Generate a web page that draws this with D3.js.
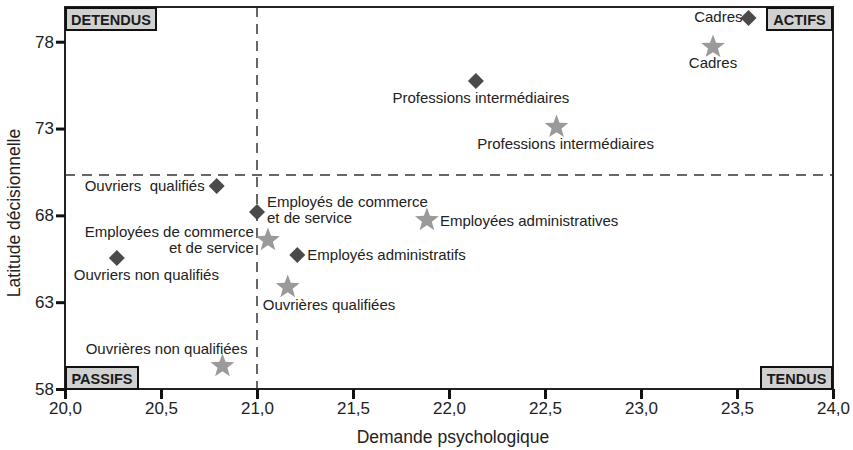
<!DOCTYPE html>
<html>
<head>
<meta charset="utf-8">
<script src="https://cdn.jsdelivr.net/npm/d3@7"></script>
<style>
  body { margin: 0; background: #fff; }
  text { font-family: "Liberation Sans", Arial, sans-serif; }
</style>
</head>
<body>
<svg id="canvas" width="853" height="450"></svg>
<script>
// hommes (losanges)
let menNames = ['Cadres', 'Professions intermédiaires', 'Ouvriers  qualifiés',
                'Employés de commerce|et de service', 'Ouvriers non qualifiés', 'Employés administratifs']
let menX = [23.56, 22.14, 20.79, 21.0, 20.27, 21.21]
let menY = [79.37, 75.74, 69.69, 68.19, 65.54, 65.72]

// femmes (étoiles)
let womenNames = ['Cadres', 'Professions intermédiaires', 'Employées administratives',
                  'Employées de commerce|et de service', 'Ouvrières qualifiées', 'Ouvrières non qualifiées']
let womenX = [23.375, 22.56, 21.885, 21.057, 21.16, 20.82]
let womenY = [77.7, 73.09, 67.73, 66.58, 63.87, 59.32]

let xTicks = [20, 20.5, 21, 21.5, 22, 22.5, 23, 23.5, 24]
let yTicks = [58, 63, 68, 73, 78]
let xCut = 21.0
let yCut = 70.32
let quadrants = ['DETENDUS', 'ACTIFS', 'PASSIFS', 'TENDUS']

// placement des étiquettes (anchor, dx, dy)
let menLabelPos = [
    ['end', -6, 4], ['middle', 5, 22], ['end', -12, 5],
    ['start', 10, -5], ['start', -43, 22], ['start', 10, 5]
]
let womenLabelPos = [
    ['middle', 0, 21], ['middle', 9, 22], ['start', 13, 6],
    ['end', -14, -3], ['start', -25, 23], ['end', 25, -12]
]

let svg = d3.select('#canvas')
let margin = {left: 65, right: 20, top: 7, bottom: 61}
let width = 853 - margin.left - margin.right
let height = 450 - margin.top - margin.bottom

let xScale = d3.scaleLinear().domain([20, 24]).range([margin.left, margin.left + width])
let yScale = d3.scaleLinear().domain([58, 80]).range([margin.top + height, margin.top])

let fmt = (d) => d3.format('.1f')(d).replace('.', ',')

// lignes pointillées
svg.append('line')
    .attr('x1', xScale(xCut)).attr('x2', xScale(xCut))
    .attr('y1', yScale(80)).attr('y2', yScale(58))
    .attr('stroke', '#666').attr('stroke-width', 2).attr('stroke-dasharray', '10,7')
svg.append('line')
    .attr('x1', xScale(20)).attr('x2', xScale(24))
    .attr('y1', yScale(yCut)).attr('y2', yScale(yCut))
    .attr('stroke', '#666').attr('stroke-width', 2).attr('stroke-dasharray', '10,7')

// cadre
svg.append('rect')
    .attr('x', xScale(20)).attr('y', yScale(80))
    .attr('width', xScale(24) - xScale(20)).attr('height', yScale(58) - yScale(80))
    .attr('fill', 'none').attr('stroke', '#222').attr('stroke-width', 2)

// axes
let xAxis = d3.axisBottom(xScale).tickValues(xTicks).tickFormat(fmt).tickSize(10).tickPadding(3)
let yAxis = d3.axisLeft(yScale).tickValues(yTicks).tickSize(9).tickPadding(2)

let gx = svg.append('g').attr('transform', 'translate(0,' + yScale(58) + ')').call(xAxis)
let gy = svg.append('g').attr('transform', 'translate(' + xScale(20) + ',0)').call(yAxis)
;[gx, gy].forEach((g) => {
    g.select('.domain').remove()
    g.selectAll('line').attr('stroke', '#111').attr('stroke-width', 3)
    g.selectAll('text').attr('fill', '#222').style('font-size', '17px')
})

svg.append('text')
    .attr('x', 453).attr('y', 443)
    .attr('text-anchor', 'middle').style('font-size', '17.5px').attr('fill', '#222')
    .text('Demande psychologique')
svg.append('text')
    .attr('transform', 'translate(20,213) rotate(-90)')
    .attr('text-anchor', 'middle').style('font-size', '17.5px').attr('fill', '#222')
    .text('Latitude décisionnelle')

// boîtes des quadrants
let boxW = [90, 65, 72, 71]
quadrants.forEach((q, i) => {
    let left = i % 2 === 0
    let top = i < 2
    let x = left ? xScale(20) + 1 : xScale(24) - 1 - boxW[i]
    let y = top ? yScale(80) + 1 : yScale(58) - 22
    let g = svg.append('g')
    g.append('rect').attr('x', x).attr('y', y).attr('width', boxW[i]).attr('height', 22)
        .attr('fill', '#d0d0d0').attr('stroke', '#111').attr('stroke-width', 2)
    g.append('text').attr('x', x + boxW[i] / 2).attr('y', y + 16.5)
        .attr('text-anchor', 'middle').style('font-size', '14.5px').style('font-weight', 'bold')
        .attr('fill', '#1a1a1a').text(q)
})

// symboles
let diamondPath = (r) => 'M0,' + (-r) + 'L' + r + ',0L0,' + r + 'L' + (-r) + ',0Z'
let starPath = (R, r) => {
    let pts = []
    for (let i = 0; i < 10; i++) {
        let a = -Math.PI / 2 + i * Math.PI / 5
        let rad = i % 2 === 0 ? R : r
        pts.push([rad * Math.cos(a), rad * Math.sin(a)])
    }
    return 'M' + pts.map((p) => p[0].toFixed(2) + ',' + p[1].toFixed(2)).join('L') + 'Z'
}

let drawLabel = (name, px, py, pos) => {
    let lines = name.split('|')
    let t = svg.append('text')
        .attr('text-anchor', pos[0]).style('font-size', '15px').attr('fill', '#222')
    lines.forEach((l, k) => {
        t.append('tspan').attr('x', px + pos[1]).attr('y', py + pos[2] + k * 16)
            .style('white-space', 'pre').text(l)
    })
}

womenNames.forEach((n, i) => {
    let px = xScale(womenX[i]), py = yScale(womenY[i])
    svg.append('path').attr('d', starPath(12.5, 5.2))
        .attr('transform', 'translate(' + px + ',' + py + ')').attr('fill', '#9a9a9a')
    drawLabel(n, px, py, womenLabelPos[i])
})

menNames.forEach((n, i) => {
    let px = xScale(menX[i]), py = yScale(menY[i])
    svg.append('path').attr('d', diamondPath(8))
        .attr('transform', 'translate(' + px + ',' + py + ')').attr('fill', '#4a4a4a')
    drawLabel(n, px, py, menLabelPos[i])
})
</script>
</body>
</html>
